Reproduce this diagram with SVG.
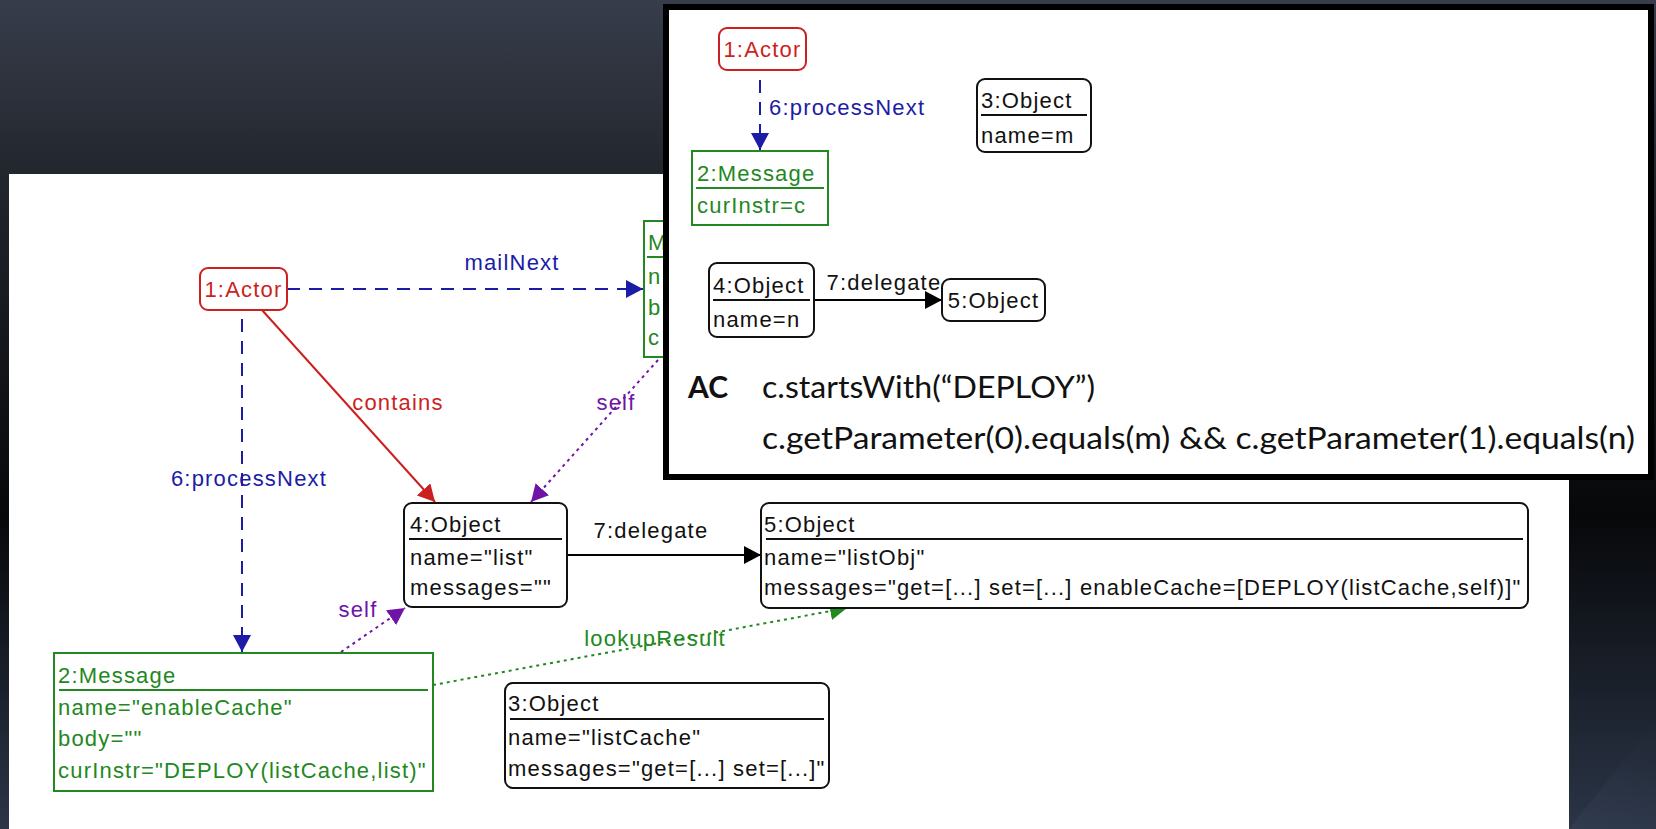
<svg xmlns="http://www.w3.org/2000/svg" width="1656" height="829" viewBox="0 0 1656 829">
  <defs>
    <linearGradient id="bg" x1="0" y1="0" x2="0" y2="1">
      <stop offset="0" stop-color="#373d4b"/>
      <stop offset="0.21" stop-color="#22262d"/>
      <stop offset="0.62" stop-color="#07080a"/>
      <stop offset="1" stop-color="#2b3547"/>
    </linearGradient>
    <linearGradient id="streak" x1="0" y1="1" x2="1" y2="0">
      <stop offset="0" stop-color="#5a6a85" stop-opacity="0.12"/>
      <stop offset="1" stop-color="#5a6a85" stop-opacity="0"/>
    </linearGradient>
    <marker id="ah-blue" markerUnits="userSpaceOnUse" markerWidth="18" markerHeight="18" refX="17" refY="9" orient="auto">
      <path d="M0,0 L17,9 L0,18 z" fill="#1c1ca6"/>
    </marker>
    <marker id="ah-red" markerUnits="userSpaceOnUse" markerWidth="18" markerHeight="18" refX="17" refY="9" orient="auto">
      <path d="M0,0 L17,9 L0,18 z" fill="#cc1f1f"/>
    </marker>
    <marker id="ah-purple" markerUnits="userSpaceOnUse" markerWidth="18" markerHeight="18" refX="17" refY="9" orient="auto">
      <path d="M0,0 L17,9 L0,18 z" fill="#7014a8"/>
    </marker>
    <marker id="ah-green" markerUnits="userSpaceOnUse" markerWidth="18" markerHeight="18" refX="17" refY="9" orient="auto">
      <path d="M0,0 L17,9 L0,18 z" fill="#228822"/>
    </marker>
    <marker id="ah-black" markerUnits="userSpaceOnUse" markerWidth="18" markerHeight="18" refX="17" refY="9" orient="auto">
      <path d="M0,0 L17,9 L0,18 z" fill="#000"/>
    </marker>
  </defs>
  <style>
    text { font-family: "Liberation Sans", Arial, sans-serif; font-size: 22px; letter-spacing: 1.2px; }
    .obj { fill: #fff; stroke: #111; stroke-width: 2; }
    .actor { fill: #fff; stroke: #cc1f1f; stroke-width: 2; }
    .msg { fill: #fff; stroke: #228822; stroke-width: 2; }
    .sep { stroke: #111; stroke-width: 2; }
    .sep-g { stroke: #228822; stroke-width: 2; }
    .t-black { fill: #111; }
    .t-red { fill: #cc1f1f; }
    .t-blue { fill: #1c1ca6; }
    .t-purple { fill: #7014a8; }
    .t-green { fill: #228822; }
    .dash-blue { fill: none; stroke: #1c1ca6; stroke-width: 2; stroke-dasharray: 13 9; }
    .dot-purple { fill: none; stroke: #7014a8; stroke-width: 2; stroke-dasharray: 3 4; }
    .dot-green { fill: none; stroke: #228822; stroke-width: 2; stroke-dasharray: 3 4; }
    .solid-red { fill: none; stroke: #cc1f1f; stroke-width: 2; }
    .solid-black { fill: none; stroke: #000; stroke-width: 2; }
    .ac { font-family: Lato, "Liberation Sans", sans-serif; font-size: 30px; letter-spacing: 0; fill: #111; }
  </style>

  <!-- backdrop -->
  <rect x="0" y="0" width="1656" height="829" fill="url(#bg)"/>
  <polygon points="1569,829 1656,720 1656,829" fill="url(#streak)"/>
  <rect x="9" y="174" width="1560" height="655" fill="#fff"/>

  <!-- connectors of the main diagram -->
  <g id="connectors">
    <line class="dash-blue" x1="287" y1="289" x2="643" y2="289" marker-end="url(#ah-blue)"/>
    <text class="t-blue" x="512" y="270" text-anchor="middle">mailNext</text>

    <line class="dash-blue" x1="242" y1="319" x2="242" y2="652" marker-end="url(#ah-blue)"/>
    <text class="t-blue" x="249" y="486" text-anchor="middle">6:processNext</text>

    <line class="solid-red" x1="262" y1="310" x2="435" y2="502" marker-end="url(#ah-red)"/>
    <text class="t-red" x="398" y="410" text-anchor="middle">contains</text>

    <line class="dot-purple" x1="658" y1="360" x2="531" y2="502" marker-end="url(#ah-purple)"/>
    <text class="t-purple" x="616" y="410" text-anchor="middle">self</text>

    <line class="solid-black" x1="567" y1="555" x2="761" y2="555" marker-end="url(#ah-black)"/>
    <text class="t-black" x="651" y="538" text-anchor="middle">7:delegate</text>

    <line class="dot-purple" x1="341" y1="652" x2="405" y2="608" marker-end="url(#ah-purple)"/>
    <text class="t-purple" x="358" y="617" text-anchor="middle">self</text>

    <line class="dot-green" x1="433" y1="685" x2="847" y2="608" marker-end="url(#ah-green)"/>
    <text class="t-green" x="655" y="646" text-anchor="middle">lookupResult</text>
  </g>

  <!-- nodes of the main diagram -->
  <g id="actor1">
    <rect class="actor" x="200" y="268" width="87" height="42" rx="8"/>
    <text class="t-red" x="243.5" y="297" text-anchor="middle">1:Actor</text>
  </g>

  <g id="message-top">
    <rect class="msg" x="644" y="221" width="60" height="136"/>
    <text class="t-green" x="648" y="250">M</text>
    <line class="sep-g" x1="647" y1="257" x2="700" y2="257"/>
    <text class="t-green" x="648" y="284">n</text>
    <text class="t-green" x="648" y="315">b</text>
    <text class="t-green" x="648" y="345">c</text>
  </g>

  <g id="object4">
    <rect class="obj" x="404" y="503" width="163" height="104" rx="8"/>
    <text class="t-black" x="410" y="532">4:Object</text>
    <line class="sep" x1="409" y1="539" x2="562" y2="539"/>
    <text class="t-black" x="410" y="565">name="list"</text>
    <text class="t-black" x="410" y="595">messages=""</text>
  </g>

  <g id="object5">
    <rect class="obj" x="761" y="503" width="767" height="105" rx="8"/>
    <text class="t-black" x="764" y="532">5:Object</text>
    <line class="sep" x1="766" y1="539" x2="1523" y2="539"/>
    <text class="t-black" x="764" y="565">name="listObj"</text>
    <text class="t-black" x="764" y="595">messages="get=[...] set=[...] enableCache=[DEPLOY(listCache,self)]"</text>
  </g>

  <g id="message2">
    <rect class="msg" x="54" y="653" width="379" height="138"/>
    <text class="t-green" x="58" y="683">2:Message</text>
    <line class="sep-g" x1="59" y1="690" x2="428" y2="690"/>
    <text class="t-green" x="58" y="715">name="enableCache"</text>
    <text class="t-green" x="58" y="746">body=""</text>
    <text class="t-green" x="58" y="778">curInstr="DEPLOY(listCache,list)"</text>
  </g>

  <g id="object3">
    <rect class="obj" x="505" y="683" width="324" height="105" rx="8"/>
    <text class="t-black" x="508" y="711">3:Object</text>
    <line class="sep" x1="510" y1="719" x2="824" y2="719"/>
    <text class="t-black" x="508" y="745">name="listCache"</text>
    <text class="t-black" x="508" y="776">messages="get=[...] set=[...]"</text>
  </g>

  <!-- rule pattern panel -->
  <g id="pattern-frame">
    <rect x="666" y="7" width="985" height="470" fill="#fff" stroke="#000" stroke-width="6"/>
  </g>

  <g id="pattern-connectors">
    <line class="dash-blue" x1="760" y1="80" x2="760" y2="150" marker-end="url(#ah-blue)"/>
    <text class="t-blue" x="769" y="115">6:processNext</text>
    <line class="solid-black" x1="814" y1="300" x2="942" y2="300" marker-end="url(#ah-black)"/>
    <text class="t-black" x="884" y="290" text-anchor="middle">7:delegate</text>
  </g>

  <g id="p-actor1">
    <rect class="actor" x="719" y="28" width="87" height="42" rx="8"/>
    <text class="t-red" x="762.5" y="57" text-anchor="middle">1:Actor</text>
  </g>

  <g id="p-message2">
    <rect class="msg" x="692" y="151" width="136" height="74"/>
    <text class="t-green" x="697" y="181">2:Message</text>
    <line class="sep-g" x1="696" y1="188" x2="824" y2="188"/>
    <text class="t-green" x="697" y="213">curInstr=c</text>
  </g>

  <g id="p-object3">
    <rect class="obj" x="977" y="79" width="114" height="73" rx="8"/>
    <text class="t-black" x="981" y="108">3:Object</text>
    <line class="sep" x1="981" y1="115" x2="1087" y2="115"/>
    <text class="t-black" x="981" y="143">name=m</text>
  </g>

  <g id="p-object4">
    <rect class="obj" x="709" y="263" width="105" height="74" rx="8"/>
    <text class="t-black" x="713" y="293">4:Object</text>
    <line class="sep" x1="713" y1="300" x2="810" y2="300"/>
    <text class="t-black" x="713" y="327">name=n</text>
  </g>

  <g id="p-object5">
    <rect class="obj" x="942" y="279" width="103" height="42" rx="8"/>
    <text class="t-black" x="993.5" y="308" text-anchor="middle">5:Object</text>
  </g>

  <g id="p-condition">
    <text class="ac" x="688" y="398" font-weight="bold">AC</text>
    <text class="ac" x="762" y="398" textLength="333" lengthAdjust="spacingAndGlyphs">c.startsWith(“DEPLOY”)</text>
    <text class="ac" x="762" y="449" textLength="873" lengthAdjust="spacingAndGlyphs">c.getParameter(0).equals(m) &amp;&amp; c.getParameter(1).equals(n)</text>
  </g>
</svg>
